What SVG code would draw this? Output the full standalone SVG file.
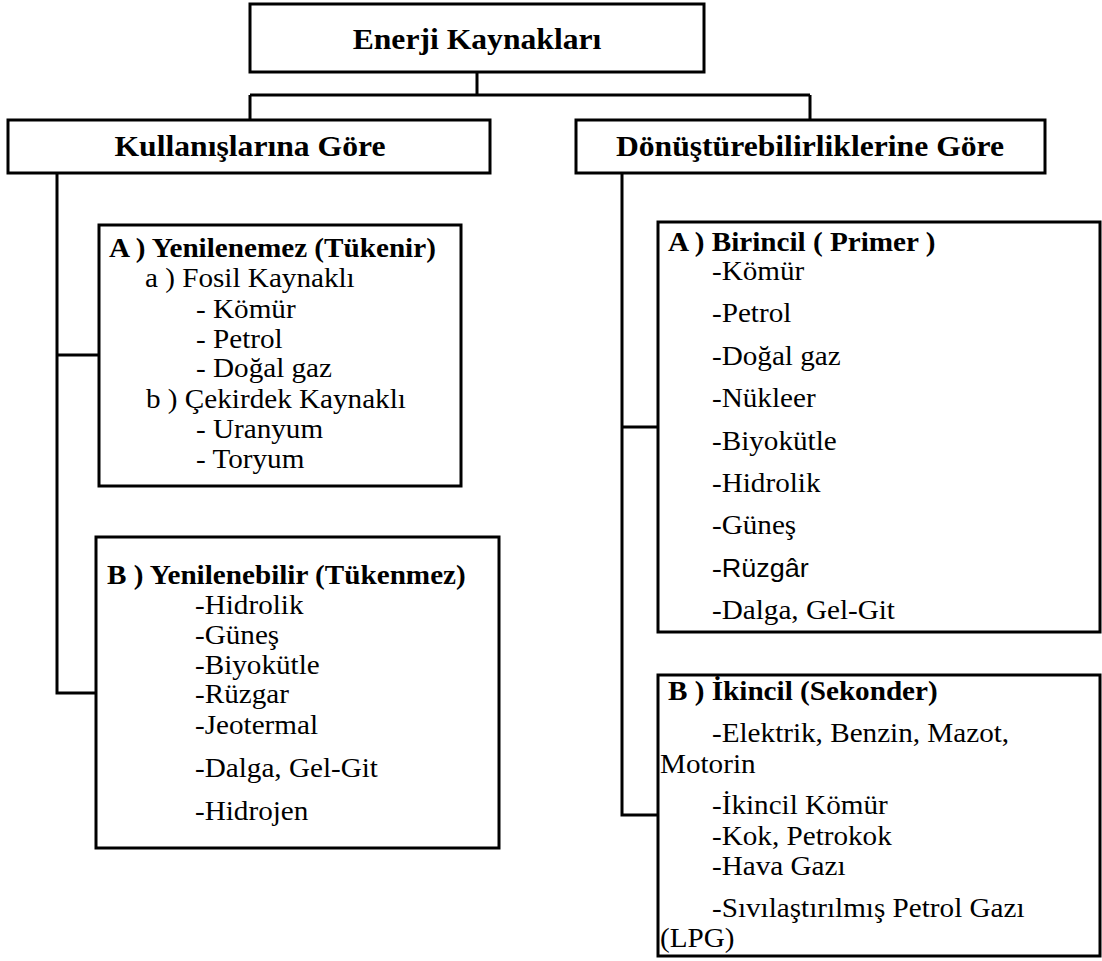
<svg xmlns="http://www.w3.org/2000/svg" width="1102" height="961" viewBox="0 0 1102 961">
<style>
.box{fill:#fff;stroke:#000;stroke-width:3}
.ln{fill:none;stroke:#000;stroke-width:3}
text{font-family:"Liberation Serif","Times New Roman",serif;fill:#000}
.h{font-size:30px;font-weight:bold;text-anchor:middle}
.b{font-size:27px;font-weight:bold}
.t{font-size:27px}
.sans{font-family:"Liberation Sans",Arial,sans-serif;font-size:25px}
</style>
<rect width="1102" height="961" fill="#fff"/>
<g id="connectors">
<path class="ln" d="M477 72V95M250 95H810M250 95V120M810 95V120"/>
<path class="ln" d="M57 173V693H96M57 355H99"/>
<path class="ln" d="M622 173V815H658M622 427H658"/>
</g>
<g id="root">
<rect class="box" x="250" y="4" width="454" height="68"/>
<text class="h" transform="translate(477 49) scale(1.055 1)">Enerji Kaynakları</text>
</g>
<g id="kullanis">
<rect class="box" x="8" y="120" width="482" height="53"/>
<text class="h" transform="translate(250 156) scale(1.055 1)">Kullanışlarına Göre</text>
</g>
<g id="donustur">
<rect class="box" x="576" y="120" width="469" height="53"/>
<text class="h" transform="translate(810 156) scale(1.055 1)">Dönüştürebilirliklerine Göre</text>
</g>
<g id="yenilenemez">
<rect class="box" x="99" y="225" width="362" height="261"/>
<text class="b" transform="translate(109 257) scale(1.08 1)">A ) Yenilenemez (Tükenir)</text>
<text class="t" transform="translate(145 287) scale(1.08 1)">a ) Fosil Kaynaklı</text>
<text class="t" transform="translate(196 318) scale(1.08 1)">- Kömür</text>
<text class="t" transform="translate(196 348) scale(1.08 1)">- Petrol</text>
<text class="t" transform="translate(196 377) scale(1.08 1)">- Doğal gaz</text>
<text class="t" transform="translate(146 408) scale(1.08 1)">b ) Çekirdek Kaynaklı</text>
<text class="t" transform="translate(196 438) scale(1.08 1)">- Uranyum</text>
<text class="t" transform="translate(196 468) scale(1.08 1)">- Toryum</text>
</g>
<g id="yenilenebilir">
<rect class="box" x="96" y="537" width="403" height="311"/>
<text class="b" transform="translate(107 584) scale(1.08 1)">B ) Yenilenebilir (Tükenmez)</text>
<text class="t" transform="translate(195 614) scale(1.08 1)">-Hidrolik</text>
<text class="t" transform="translate(195 644) scale(1.08 1)">-Güneş</text>
<text class="t" transform="translate(195 674) scale(1.08 1)">-Biyokütle</text>
<text class="t" transform="translate(195 703) scale(1.08 1)">-Rüzgar</text>
<text class="t" transform="translate(195 734) scale(1.08 1)">-Jeotermal</text>
<text class="t" transform="translate(195 777) scale(1.08 1)">-Dalga, Gel-Git</text>
<text class="t" transform="translate(195 820) scale(1.08 1)">-Hidrojen</text>
</g>
<g id="birincil">
<rect class="box" x="658" y="222" width="442" height="410"/>
<text class="b" transform="translate(668 251) scale(1.08 1)">A ) Birincil ( Primer )</text>
<text class="t" transform="translate(712 280) scale(1.08 1)">-Kömür</text>
<text class="t" transform="translate(712 322) scale(1.08 1)">-Petrol</text>
<text class="t" transform="translate(712 365) scale(1.08 1)">-Doğal gaz</text>
<text class="t" transform="translate(712 407) scale(1.08 1)">-Nükleer</text>
<text class="t" transform="translate(712 450) scale(1.08 1)">-Biyokütle</text>
<text class="t" transform="translate(712 492) scale(1.08 1)">-Hidrolik</text>
<text class="t" transform="translate(712 534) scale(1.08 1)">-Güneş</text>
<text class="t" transform="translate(712 577) scale(1.08 1)">-<tspan class="sans">Rüzgâr</tspan></text>
<text class="t" transform="translate(712 619) scale(1.08 1)">-Dalga, Gel-Git</text>
</g>
<g id="ikincil">
<rect class="box" x="658" y="675" width="442" height="281"/>
<text class="b" transform="translate(668 700) scale(1.08 1)">B ) İkincil (Sekonder)</text>
<text class="t" transform="translate(712 742) scale(1.08 1)">-Elektrik, Benzin, Mazot,</text>
<text class="t" transform="translate(660 773) scale(1.08 1)">Motorin</text>
<text class="t" transform="translate(712 814) scale(1.08 1)">-İkincil Kömür</text>
<text class="t" transform="translate(712 845) scale(1.08 1)">-Kok, Petrokok</text>
<text class="t" transform="translate(712 875) scale(1.08 1)">-Hava Gazı</text>
<text class="t" transform="translate(712 917) scale(1.08 1)">-Sıvılaştırılmış Petrol Gazı</text>
<text class="t" transform="translate(660 947) scale(1.08 1)">(LPG)</text>
</g>
</svg>
